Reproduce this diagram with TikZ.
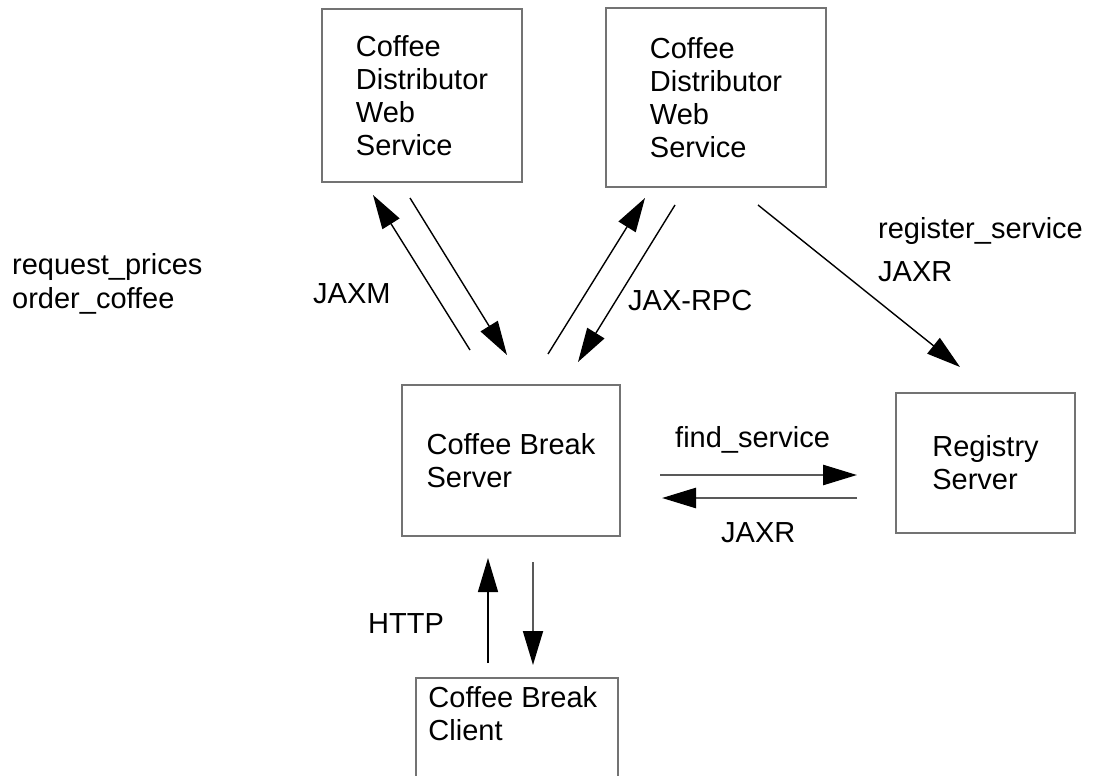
\documentclass[tikz,border=0pt]{standalone}
\usepackage{fontspec}
\setmainfont{Liberation Sans}
\usetikzlibrary{arrows.meta}

\begin{document}
\begin{tikzpicture}[x=1pt,y=-1pt,
  box/.style={draw=black!55, line width=2.2pt, align=left, inner sep=0pt},
  lbl/.style={anchor=base west, inner sep=0pt},
  msg/.style={->, line width=1.4pt},
  gmsg/.style={->, line width=2.6pt, draw=black!65},
  >={Triangle[length=34pt,width=20pt,color=black]},
  font=\fontsize{29}{33}\selectfont]
\useasboundingbox (0,0) rectangle (1103,776);
\clip (0,0) rectangle (1103,776);
\node[box, minimum width=200pt, minimum height=173pt] (dist1) at (422,95.5) {Coffee\\Distributor\\Web\\Service};
\node[box, minimum width=220pt, minimum height=179pt] (dist2) at (716,97.5) {Coffee\\Distributor\\Web\\Service};
\node[box, minimum width=218pt, minimum height=151pt] (server) at (511,460.5) {Coffee Break\\Server};
\node[box, minimum width=179pt, minimum height=140pt] (registry) at (985.5,463) {Registry\\Server};
\node[box, anchor=north, minimum width=202pt, minimum height=130pt] (client) at (517,677) {};
\node[anchor=north west, align=left] (clienttxt) at ([xshift=10pt,yshift=-6pt]client.north west) {Coffee Break\\Client};
\node[lbl] (prices) at (12,274) {request\_prices};
\node[lbl] (order) at (12,308) {order\_coffee};
\node[lbl] (jaxm) at (313,303) {JAXM};
\node[lbl] (jaxrpc) at (628,310) {JAX-RPC};
\node[lbl] (regsvc) at (878,238) {register\_service};
\node[lbl] (jaxr1) at (878,281) {JAXR};
\node[lbl] (findsvc) at (675,447) {find\_service};
\node[lbl] (jaxr2) at (721,542) {JAXR};
\node[lbl] (http) at (368,633) {HTTP};
\coordinate (m1) at (470,350); \coordinate (m1') at (373,195);
\coordinate (m2) at (410,198); \coordinate (m2') at (507,355);
\coordinate (r1) at (548,354); \coordinate (r1') at (645,198);
\coordinate (r2) at (675,205); \coordinate (r2') at (578,362);
\coordinate (g1) at (758,205); \coordinate (g1') at (960,367);
\coordinate (f1) at (660,475); \coordinate (f1') at (857,475);
\coordinate (f2) at (857,498); \coordinate (f2') at (662,498);
\coordinate (h1) at (488,663); \coordinate (h1') at (488,558);
\coordinate (h2) at (533,562); \coordinate (h2') at (533,665);
\draw[msg] (m1) -- (m1');
\draw[msg] (m2) -- (m2');
\draw[msg] (r1) -- (r1');
\draw[msg] (r2) -- (r2');
\draw[msg] (g1) -- (g1');
\draw[gmsg] (f1) -- (f1');
\draw[gmsg] (f2) -- (f2');
\draw[msg] (h1) -- (h1');
\draw[gmsg, line width=1.8pt] (h2) -- (h2');
\end{tikzpicture}
\end{document}
